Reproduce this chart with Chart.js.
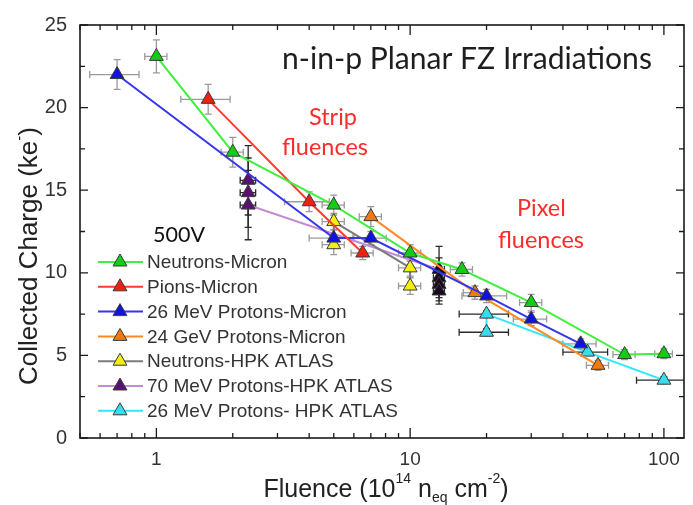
<!DOCTYPE html>
<html><head><meta charset="utf-8">
<script src="https://cdn.jsdelivr.net/npm/chart.js@4.4.1/dist/chart.umd.min.js"></script>
<style>html,body{margin:0;padding:0;background:#fff;}canvas{display:block;}</style>
</head><body>
<canvas id="c" width="693" height="505"></canvas>
<script>
// ---- Data ----
const seriesNames = ["Neutrons-Micron","Pions-Micron","26 MeV Protons-Micron","24 GeV Protons-Micron","Neutrons-HPK ATLAS","70 MeV Protons-HPK ATLAS","26 MeV Protons- HPK ATLAS"];

const neutronsMicronX = [1, 2, 5, 10, 16, 30, 70, 100];
const neutronsMicronY = [23.1, 17.3, 14.1, 11.2, 10.2, 8.2, 5.05, 5.1];
const neutronsMicronYErr = [1.0, 0.9, 0.6, 0.5, 0.4, 0.5, 0.3, 0.3];
const neutronsMicronXErr = [0.1, 0.1, 0.1, 0.1, 0.1, 0.1, 0.1, 0.08];

const pionsMicronX = [1.6, 4, 6.5];
const pionsMicronY = [20.5, 14.3, 11.2];
const pionsMicronYErr = [0.9, 0.6, 0.4];
const pionsMicronXErr = [0.22, 0.2, 0.1];

const protons26MicronX = [0.7, 5, 7, 20, 30, 47];
const protons26MicronY = [22.0, 12.1, 12.1, 8.6, 7.2, 5.7];
const protons26MicronYErr = [0.9, 0.5, 0.4, 0.4, 0.4, 0.3];
const protons26MicronXErr = [0.22, 0.2, 0.15, 0.2, 0.15, 0.15];

const protons24GeVMicronX = [7, 18, 55];
const protons24GeVMicronY = [13.4, 8.8, 4.4];
const protons24GeVMicronYErr = [0.6, 0.4, 0.3];
const protons24GeVMicronXErr = [0.1, 0.1, 0.1];

const neutronsHPKX = [5, 5, 10, 10];
const neutronsHPKY = [11.7, 13.1, 10.3, 9.2];
const neutronsHPKYErr = [0.6, 0.5, 0.5, 0.5];
const neutronsHPKXErr = [0.1, 0.1, 0.1, 0.1];

const protons70HPKX = [2.3, 2.3, 2.3, 13, 13, 13, 13];
const protons70HPKY = [15.6, 14.85, 14.1, 10.2, 9.7, 9.3, 8.9];
const protons70HPKYErr = [2.1, 2.1, 2.1, 1.4, 1.2, 1.0, 0.8];
const protons70HPKXErr = [0.07, 0.07, 0.07, 0.05, 0.05, 0.05, 0.05];

const protons26HPKX = [20, 20, 50, 100];
const protons26HPKY = [6.4, 7.5, 5.2, 3.5];
const protons26HPKYErr = [0.2, 0.2, 0.2, 0.2];
const protons26HPKXErr = [0.22, 0.22, 0.2, 0.22];

const yTickValues = [0, 5, 10, 15, 20, 25];
const xTickValues = [1, 10, 100];

// ---- Build datasets ----
function pts(xs, ys){ return xs.map((v,i)=>({x:v, y:ys[i]})); }
function mk(i, xs, ys, ye, xe, line, fill, err){
  return {label: seriesNames[i], data: pts(xs, ys), yErr: ye, xErr: xe,
    showLine: true, borderColor: line, borderWidth: 2, tension: 0,
    pointStyle: 'triangle', pointRadius: 8, pointHoverRadius: 8,
    pointBackgroundColor: fill, pointBorderColor: '#3a3a3a', pointBorderWidth: 1,
    errColor: err, markerFill: Array.isArray(fill) ? fill[0] : fill};
}
const datasets = [
  mk(0, neutronsMicronX, neutronsMicronY, neutronsMicronYErr, neutronsMicronXErr, '#3ff03f', '#14cc14', '#9a9a9a'),
  mk(1, pionsMicronX, pionsMicronY, pionsMicronYErr, pionsMicronXErr, '#ff3a30', '#ee2010', '#9a9a9a'),
  mk(2, protons26MicronX, protons26MicronY, protons26MicronYErr, protons26MicronXErr, '#3535ee', '#1212dd', '#9a9a9a'),
  mk(3, protons24GeVMicronX, protons24GeVMicronY, protons24GeVMicronYErr, protons24GeVMicronXErr, '#ff8a25', '#f07a12', '#9a9a9a'),
  mk(4, neutronsHPKX, neutronsHPKY, neutronsHPKYErr, neutronsHPKXErr, '#7c7c7c', '#f2ee10', '#9a9a9a'),
  mk(5, protons70HPKX, protons70HPKY, protons70HPKYErr, protons70HPKXErr, '#c28bd6',
     ['#5a1070','#5a1070','#5a1070','#1a0820','#1a0820','#1a0820','#1a0820'], '#2a2a2a'),
  mk(6, protons26HPKX, protons26HPKY, protons26HPKYErr, protons26HPKXErr, '#2ee6ff', '#38dcec', '#2a2a2a')
];

function fitSize(ctx, text, family, target){
  ctx.font = '100px ' + family;
  return 100 * target / ctx.measureText(text).width;
}

const overlay = {
  id: 'overlay',
  beforeDatasetsDraw(chart){
    const {ctx, chartArea: a, scales: {x, y}} = chart;
    ctx.save();
    ctx.beginPath(); ctx.rect(a.left, a.top, a.right - a.left, a.bottom - a.top); ctx.clip();
    chart.data.datasets.forEach(ds => {
      ctx.strokeStyle = ds.errColor; ctx.lineWidth = 1.3;
      ds.data.forEach((p, i) => {
        const px = x.getPixelForValue(p.x), py = y.getPixelForValue(p.y);
        const ye = ds.yErr[i], xe = ds.xErr[i];
        const t = y.getPixelForValue(p.y + ye), b = y.getPixelForValue(p.y - ye);
        const l = x.getPixelForValue(p.x * (1 - xe)), r = x.getPixelForValue(p.x * (1 + xe));
        ctx.beginPath();
        ctx.moveTo(px, t); ctx.lineTo(px, b);
        ctx.moveTo(px - 3.5, t); ctx.lineTo(px + 3.5, t);
        ctx.moveTo(px - 3.5, b); ctx.lineTo(px + 3.5, b);
        ctx.moveTo(l, py); ctx.lineTo(r, py);
        ctx.moveTo(l, py - 3.5); ctx.lineTo(l, py + 3.5);
        ctx.moveTo(r, py - 3.5); ctx.lineTo(r, py + 3.5);
        ctx.stroke();
      });
    });
    ctx.restore();
  },
  afterDraw(chart){
    const {ctx, chartArea: a, scales: {x, y}} = chart;
    ctx.save();
    // frame
    ctx.strokeStyle = '#1a1a1a'; ctx.lineWidth = 1.6;
    ctx.strokeRect(a.left, a.top, a.right - a.left, a.bottom - a.top);
    // y ticks (major & minor), both sides, inward
    ctx.lineWidth = 1.3;
    ctx.beginPath();
    for (let v = 0; v <= 25.001; v += 2.5) {
      const py = y.getPixelForValue(v);
      const len = (Math.abs(v % 5) < 1e-6) ? 8 : 5;
      ctx.moveTo(a.left, py); ctx.lineTo(a.left + len, py);
      ctx.moveTo(a.right, py); ctx.lineTo(a.right - len, py);
    }
    // x ticks (log)
    for (let e = -1; e <= 2; e++) {
      for (let d = 1; d <= 9; d++) {
        const v = d * Math.pow(10, e);
        if (v < x.min - 1e-9 || v > x.max + 1e-9) continue;
        const px = x.getPixelForValue(v);
        const len = d === 1 ? 10 : 5;
        ctx.moveTo(px, a.bottom); ctx.lineTo(px, a.bottom - len);
        ctx.moveTo(px, a.top); ctx.lineTo(px, a.top + len);
      }
    }
    ctx.stroke();

    // in-plot title & annotations
    ctx.textBaseline = 'alphabetic'; ctx.textAlign = 'left';
    const T = 'n-in-p Planar FZ Irradiations';
    let s = fitSize(ctx, T, 'Lato', 370);
    ctx.font = s + 'px Lato'; ctx.fillStyle = '#1e1e1e';
    ctx.fillText(T, 282, 69);
    ctx.fillStyle = '#ff2a2a';
    s = fitSize(ctx, 'fluences', 'Lato', 86);
    ctx.font = s + 'px Lato';
    ctx.fillText('Strip', 309, 125);
    ctx.fillText('fluences', 282, 155);
    ctx.fillText('Pixel', 517, 216);
    ctx.fillText('fluences', 498, 248);
    ctx.fillStyle = '#111';
    s = fitSize(ctx, '500V', 'Lato', 52);
    ctx.font = s + 'px Lato';
    ctx.fillText('500V', 153, 242);

    // legend
    ctx.font = '19px "Liberation Sans", Arial, sans-serif';
    ctx.textBaseline = 'middle';
    chart.data.datasets.forEach((ds, i) => {
      const ly = 262 + i * 24.8;
      ctx.strokeStyle = ds.borderColor; ctx.lineWidth = 2;
      ctx.beginPath(); ctx.moveTo(98, ly); ctx.lineTo(143, ly); ctx.stroke();
      const r = 8, cx = 120;
      ctx.beginPath();
      ctx.moveTo(cx, ly - r);
      ctx.lineTo(cx + r * Math.sin(2 * Math.PI / 3), ly + r / 2);
      ctx.lineTo(cx - r * Math.sin(2 * Math.PI / 3), ly + r / 2);
      ctx.closePath();
      ctx.fillStyle = ds.markerFill; ctx.fill();
      ctx.strokeStyle = '#3a3a3a'; ctx.lineWidth = 1; ctx.stroke();
      ctx.fillStyle = '#333';
      ctx.fillText(ds.label, 147, ly + 1);
    });

    // x axis title with super/subscripts
    ctx.textBaseline = 'alphabetic';
    const F = '"Liberation Sans", Arial, sans-serif';
    const parts = [['Fluence (10', 25, 0], ['14', 14, -14], [' n', 25, 0], ['eq', 14, 5], [' cm', 25, 0], ['-2', 14, -14], [')', 25, 0]];
    let total = 0;
    parts.forEach(p => { ctx.font = p[1] + 'px ' + F; total += ctx.measureText(p[0]).width; });
    let cx0 = 386 - total / 2;
    ctx.fillStyle = '#222';
    parts.forEach(p => { ctx.font = p[1] + 'px ' + F; ctx.fillText(p[0], cx0, 497 + p[2]); cx0 += ctx.measureText(p[0]).width; });

    // y axis title
    ctx.save();
    ctx.translate(37, 256); ctx.rotate(-Math.PI / 2);
    const yp = [['Collected Charge (ke', 26, 0], ['-', 15, -13], [')', 26, 0]];
    total = 0;
    yp.forEach(p => { ctx.font = p[1] + 'px ' + F; total += ctx.measureText(p[0]).width; });
    cx0 = -total / 2;
    yp.forEach(p => { ctx.font = p[1] + 'px ' + F; ctx.fillText(p[0], cx0, p[2]); cx0 += ctx.measureText(p[0]).width; });
    ctx.restore();

    ctx.restore();
  }
};

new Chart(document.getElementById('c'), {
  type: 'scatter',
  data: { datasets },
  options: {
    responsive: false, animation: false, devicePixelRatio: 1, events: [],
    layout: { padding: { top: 21, right: 6, left: 0, bottom: 0 } },
    plugins: { legend: { display: false }, tooltip: { enabled: false } },
    scales: {
      x: {
        type: 'logarithmic', min: 0.5, max: 120,
        grid: { display: false, drawTicks: false }, border: { display: false },
        afterBuildTicks: sc => { sc.ticks = xTickValues.map(v => ({ value: v })); },
        afterFit: sc => { sc.height = 67; },
        ticks: { autoSkip: false, maxRotation: 0, padding: 10, color: '#333',
          font: { size: 19, family: '"Liberation Sans", Arial, sans-serif' },
          callback: v => String(v) }
      },
      y: {
        type: 'linear', min: 0, max: 25,
        grid: { display: false, drawTicks: false }, border: { display: false },
        afterBuildTicks: sc => { sc.ticks = yTickValues.map(v => ({ value: v })); },
        afterFit: sc => { sc.width = 80; },
        ticks: { padding: 13, color: '#333',
          font: { size: 20, family: '"Liberation Sans", Arial, sans-serif' } }
      }
    }
  },
  plugins: [overlay]
});
</script>
</body></html>
